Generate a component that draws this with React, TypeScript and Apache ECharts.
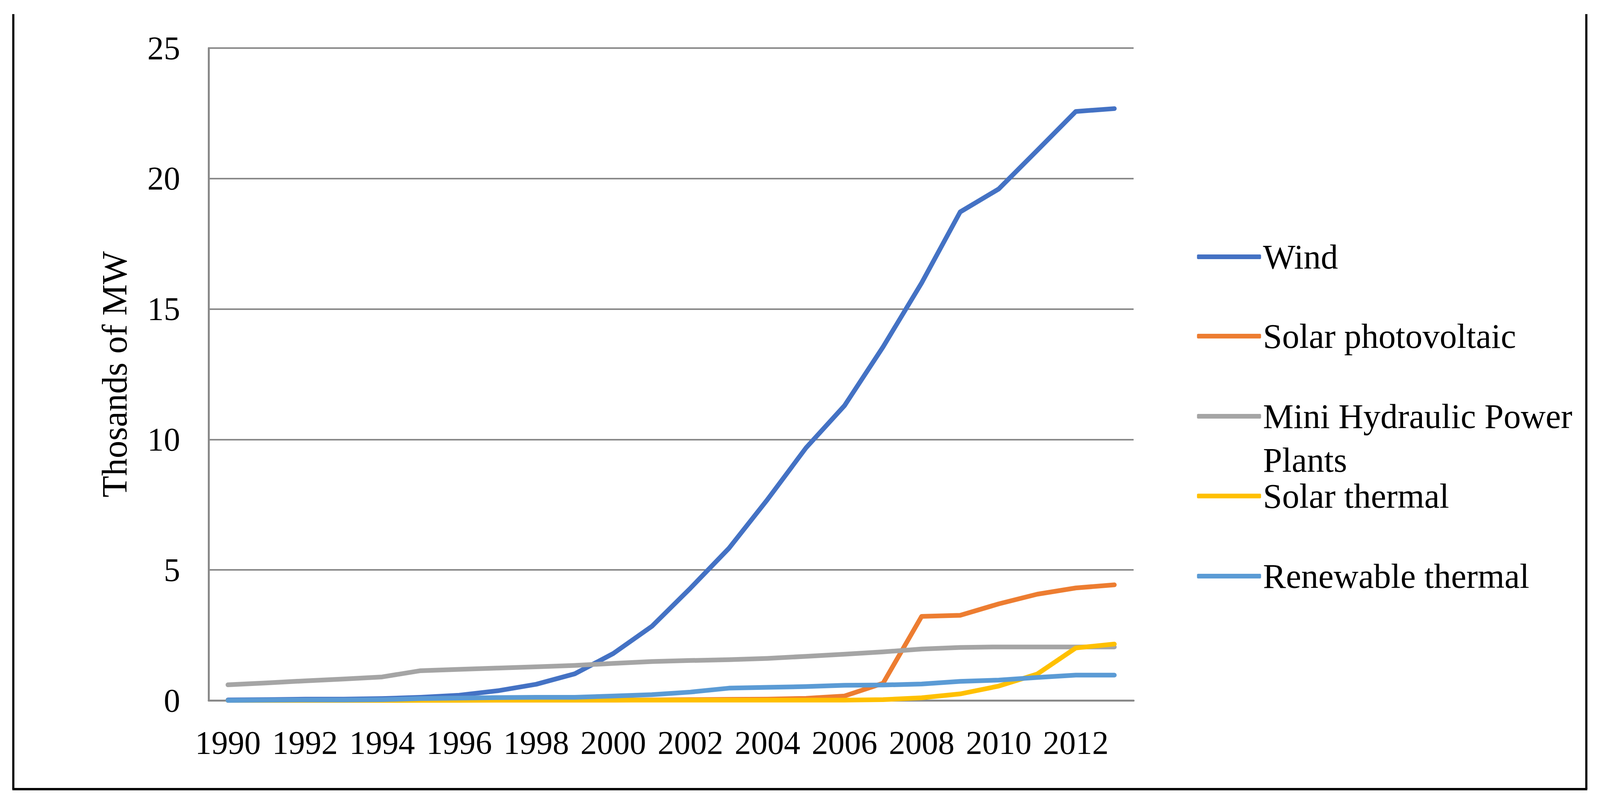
import React, { useEffect, useRef } from "react";
import * as echarts from "echarts";

const years = ["1990","1991","1992","1993","1994","1995","1996","1997","1998","1999","2000","2001","2002","2003","2004","2005","2006","2007","2008","2009","2010","2011","2012","2013"];
const wind = [0.02,0.03,0.05,0.05,0.07,0.12,0.2,0.37,0.62,1.02,1.8,2.84,4.3,5.83,7.7,9.68,11.3,13.55,16.0,18.72,19.6,21.08,22.57,22.68];
const solarPV = [0,0,0,0,0,0.01,0.01,0.01,0.01,0.01,0.01,0.02,0.03,0.04,0.05,0.08,0.17,0.66,3.22,3.26,3.7,4.07,4.31,4.43];
const miniHydro = [0.6,0.67,0.75,0.82,0.9,1.14,1.19,1.24,1.29,1.34,1.42,1.49,1.53,1.56,1.61,1.69,1.77,1.86,1.97,2.03,2.05,2.05,2.05,2.05];
const solarThermal = [0,0,0,0,0,0.005,0.005,0.01,0.01,0.01,0.01,0.01,0.01,0.01,0.01,0.01,0.01,0.03,0.1,0.25,0.55,1.01,2.01,2.16];
const renewableThermal = [0,0.01,0.02,0.02,0.03,0.07,0.09,0.11,0.12,0.12,0.17,0.22,0.32,0.47,0.5,0.53,0.58,0.59,0.63,0.73,0.78,0.88,0.97,0.97];

const seriesNames = ["Wind","Solar photovoltaic","Mini Hydraulic Power Plants","Solar thermal","Renewable thermal"];
const legendLabels = ["Wind","Solar photovoltaic","\nMini Hydraulic Power\nPlants","Solar thermal","Renewable thermal"];
const seriesColors = ["#4472C4","#ED7D31","#A5A5A5","#FFC000","#5B9BD5"];
const seriesData = [wind, solarPV, miniHydro, solarThermal, renewableThermal];
const yTicks = { min: 0, max: 25, interval: 5 };
const yName = "Thosands of MW";

const FONT = "'Liberation Serif', 'Times New Roman', serif";

export default function App() {
  const ref = useRef<HTMLDivElement>(null);
  useEffect(() => {
    document.body.style.margin = "0";
    const el = ref.current!;
    const chart = echarts.init(el, undefined, { renderer: "svg" });
    const W = el.clientWidth || 4271;
    const sx = W / 4271;
    const legendY = [652, 855, 1060, 1264, 1469];
    const legends = seriesNames.map((name, i) => {
      const lines = legendLabels[i].split("\n").length;
      return {
        show: true,
        selectedMode: false,
        orient: "vertical",
        left: 3190 * sx,
        top: legendY[i] - (lines * 112) / 2,
        itemWidth: 171 * sx,
        itemHeight: 12,
        icon: "roundRect",
        data: [name],
        formatter: () => legendLabels[i],
        textStyle: {
          fontSize: 88,
          fontFamily: FONT,
          color: "#000",
          lineHeight: 112,
        },
      };
    });
    const axisX = 557 * sx;
    const plotRight = 3026 * sx;
    chart.setOption({
      animation: false,
      backgroundColor: "#fff",
      grid: { left: axisX, right: W - plotRight, top: 123, bottom: 265 },
      legend: legends,
      xAxis: {
        type: "category",
        data: years,
        boundaryGap: true,
        axisLine: { show: true, lineStyle: { color: "#898989", width: 5 } },
        axisTick: { show: false },
        axisLabel: { interval: 1, fontSize: 84, fontFamily: FONT, color: "#000", margin: 66 },
        splitLine: { show: false },
      },
      yAxis: {
        type: "value",
        min: yTicks.min,
        max: yTicks.max,
        interval: yTicks.interval,
        name: yName,
        nameLocation: "middle",
        nameGap: axisX - 306 * sx - 45,
        nameTextStyle: { fontSize: 90, fontFamily: FONT, color: "#000" },
        axisLine: { show: true, lineStyle: { color: "#898989", width: 5 } },
        axisTick: { show: false },
        axisLabel: { fontSize: 84, fontFamily: FONT, color: "#000", margin: 76 * sx },
        splitLine: { show: true, lineStyle: { color: "#898989", width: 4 } },
      },
      series: seriesNames.map((name, i) => ({
        name,
        type: "line",
        data: seriesData[i],
        showSymbol: false,
        symbol: "none",
        color: seriesColors[i],
        itemStyle: { color: seriesColors[i] },
        lineStyle: { color: seriesColors[i], width: 12, cap: "round", join: "round" },
      })),
      graphic: [
        { type: "line", shape: { x1: 35.5 * sx, y1: 36, x2: 35.5 * sx, y2: 2019 }, style: { stroke: "#000", lineWidth: 5.5 } },
        { type: "line", shape: { x1: 33 * sx, y1: 2019, x2: 4237 * sx, y2: 2019 }, style: { stroke: "#000", lineWidth: 6 } },
        { type: "line", shape: { x1: 4234.5 * sx, y1: 36, x2: 4234.5 * sx, y2: 2019 }, style: { stroke: "#000", lineWidth: 5.5 } },
      ],
    });
    return () => chart.dispose();
  }, []);
  return <div ref={ref} style={{ position: "absolute", left: 0, top: 0, width: "100vw", height: 2057 }} />;
}
